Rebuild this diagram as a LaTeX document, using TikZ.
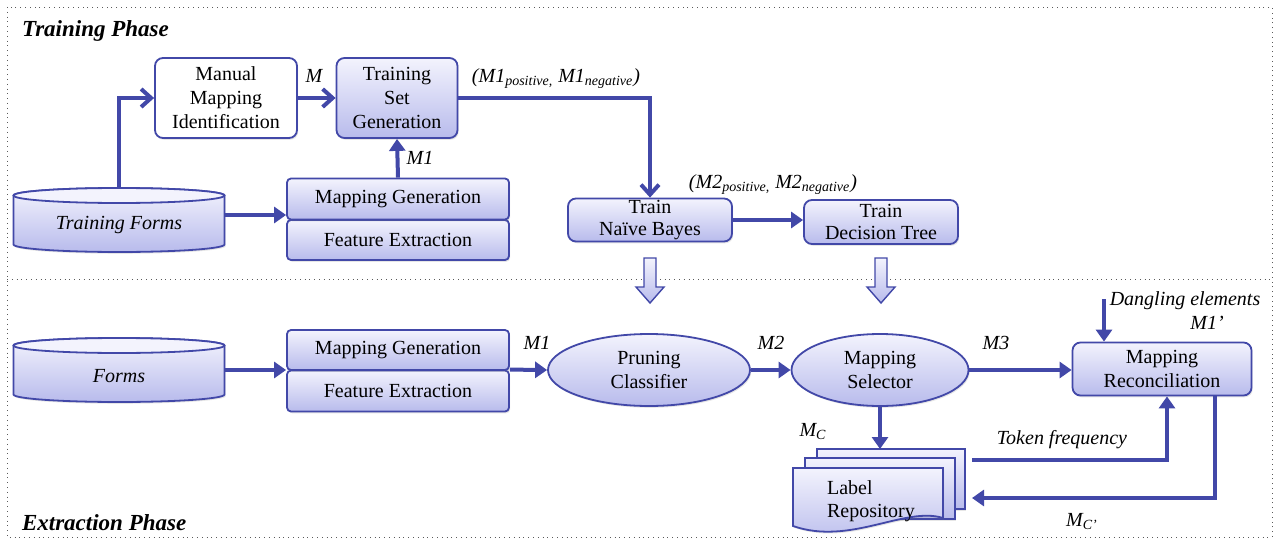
\documentclass[tikz,border=0pt]{standalone}
\usepackage{fontspec}
\setmainfont{Liberation Serif}
\usepackage{tikz}
\usetikzlibrary{arrows.meta, shapes.geometric, shadows, positioning, calc}
\definecolor{flowblue}{RGB}{66,72,168}
\definecolor{lavtop}{RGB}{243,243,253}
\definecolor{lavbot}{RGB}{184,187,236}
\definecolor{frameline}{RGB}{90,90,90}

\begin{document}
\begin{tikzpicture}[x=0.5pt, y=-0.5pt,
    every node/.style={font=\fontsize{10}{12}\selectfont},
    softshadow/.style={drop shadow={opacity=0.2, shadow xshift=0.6pt, shadow yshift=-0.9pt}},
    procbox/.style={draw=flowblue, line width=0.9pt, rounded corners=4pt, top color=lavtop, bottom color=lavbot, align=center, inner sep=0pt, softshadow},
    stagebox/.style={draw=flowblue, line width=0.9pt, rounded corners=2pt, top color=lavtop, bottom color=lavbot, align=center, inner sep=0pt, minimum width=111pt},
    classif/.style={ellipse, draw=flowblue, line width=0.9pt, top color=lavtop, bottom color=lavbot, align=center, inner sep=0pt, softshadow},
    dbbody/.style={draw=flowblue, line width=0.9pt, top color=lavtop, bottom color=lavbot, softshadow},
    dbtop/.style={draw=flowblue, line width=0.9pt, fill=lavtop},
    dbtext/.style={minimum width=105.5pt, minimum height=37pt, inner sep=0pt, font=\fontsize{10}{12}\selectfont\itshape},
    flow/.style={draw=flowblue, line width=2pt, -{Triangle[width=8pt, length=6pt]}},
    chev/.style={draw=flowblue, line width=2pt, -{Straight Barb[width=9pt, length=5pt, line width=2pt]}},
    hollow/.style={draw=flowblue, line width=0.7pt, top color=lavtop, bottom color=lavbot},
    lbl/.style={font=\fontsize{10}{12}\selectfont\itshape},
    phase/.style={font=\fontsize{11.5}{13}\selectfont\bfseries\itshape, anchor=base west}
]
\useasboundingbox (0,0) rectangle (1278,540);
% phase frames
\draw[frameline, line width=0.4pt, dotted] (7,7) rectangle (1272,537);
\draw[frameline, line width=0.4pt, dotted] (7,279) -- (1272,279);
\node[phase] (trainph) at (15,37) {Training Phase};
\node[phase] (extrph) at (15,530) {Extraction Phase};

% the two form stores
\foreach \cy in {220,370} {
  \draw[dbbody] (13.5,\cy-24.5) arc[start angle=180, end angle=0, x radius=52.75pt, y radius=3.75pt] -- (224.5,\cy+24.5) arc[start angle=0, end angle=-180, x radius=52.75pt, y radius=3.75pt] -- cycle;
  \draw[dbtop] (119,\cy-24.5) ellipse[x radius=52.75pt, y radius=3.75pt];
}

% training phase
\node[dbtext] (tforms) at (119,225) {Training Forms};
\node[procbox, fill=white, top color=white, bottom color=white, minimum width=71pt, minimum height=40pt] (manual) at (226,98) {Manual\\Mapping\\Identification};
\node[procbox, minimum width=60.5pt, minimum height=40pt] (tsg) at (397,98) {Training\\Set\\Generation};
\node[stagebox, minimum height=20pt, softshadow] (tfeat) at (398,240) {Feature Extraction};
\node[stagebox, minimum height=20.5pt, softshadow] (tmapgen) at (398,199) {Mapping Generation};
\node[procbox, font=\fontsize{10}{11}\selectfont, minimum width=82pt, minimum height=21.5pt] (nbayes) at (650,220) {Train\\Naïve Bayes};
\node[procbox, font=\fontsize{10}{11}\selectfont, minimum width=77pt, minimum height=22pt] (dtree) at (881,222) {Train\\Decision Tree};

\draw[chev] (tforms.north) |- (manual.west);
\draw[chev] (manual.east) -- (tsg.west);
\draw[flow] (tmapgen.north) -- (tsg.south);
\draw[flow] ([yshift=5pt]tforms.east) -- ([yshift=5pt]tforms.east -| tmapgen.west);
\draw[chev] (tsg.east) -| (nbayes.north);
\draw[flow] (nbayes.east) -- (nbayes.east -| dtree.west);
\node[lbl] (lm) at (314,76) {M};
\node[lbl] (lm1a) at (420,158) {M1};
\node[lbl] (lm1pn) at (556,79) {(M1\textsubscript{positive,} M1\textsubscript{negative})};
\node[lbl] (lm2pn) at (773,185) {(M2\textsubscript{positive,} M2\textsubscript{negative})};

% models handed to extraction
\foreach \ax in {650,881}
  \draw[hollow] (\ax-6,258) -- (\ax+6,258) -- (\ax+6,287) -- (\ax+14,287) -- (\ax,303) -- (\ax-14,287) -- (\ax-6,287) -- cycle;

% extraction phase
\node[dbtext] (forms) at (119,376) {Forms};
\node[stagebox, minimum height=20.5pt, softshadow] (efeat) at (398,391) {Feature Extraction};
\node[stagebox, minimum height=20pt, softshadow] (emapgen) at (398,350) {Mapping Generation};
\node[classif, minimum width=101pt, minimum height=36pt] (pruning) at (649,370) {Pruning\\Classifier};
\node[classif, minimum width=88.5pt, minimum height=36pt] (selector) at (880,370) {Mapping\\Selector};
\node[procbox, minimum width=89.5pt, minimum height=26.5pt] (reconcile) at (1162,369) {Mapping\\Reconciliation};

% label repository
\draw[hollow, line width=0.9pt, softshadow] (817,449) rectangle (965,509);
\draw[hollow, line width=0.9pt, softshadow] (805,458) rectangle (955,519);
\draw[hollow, line width=0.9pt, softshadow] (793,468) -- (943,468) -- (943,518) .. controls (905,506) and (850,546) .. (793,526) -- cycle;
\node[anchor=west, align=left, font=\fontsize{10}{11.5}\selectfont] (repo) at (820,501) {Label\\Repository};
\coordinate (repotop) at (880,449);
\coordinate (tokstart) at (972,460);
\coordinate (mcend) at (972,498);
\coordinate (dangtop) at (1104,299);

\draw[flow] ([yshift=3pt]forms.east) -- ([yshift=3pt]forms.east -| emapgen.west);
\draw[flow] (efeat.north east) -- (pruning.west);
\draw[flow] (pruning.east) -- (selector.west);
\draw[flow] (selector.east) -- (selector.east -| reconcile.west);
\draw[flow] (selector.south) -- (repotop);
\draw[flow] (dangtop) -- (dangtop |- reconcile.north);
\draw[flow] (tokstart) -| ([xshift=2.5pt]reconcile.south);
\draw[flow] ([xshift=26.5pt]reconcile.south) |- (mcend);

\node[lbl] (lm1b) at (537,343) {M1};
\node[lbl] (lm2) at (771,343) {M2};
\node[lbl] (lm3) at (996,343) {M3};
\node[lbl, align=center] (ldang) at (1185,311) {Dangling elements\\\hspace*{2.2em}M1’};
\node[lbl] (lmc) at (813,432) {M\textsubscript{C}};
\node[lbl] (ltok) at (1062,440) {Token frequency};
\node[lbl] (lmcp) at (1082,522) {M\textsubscript{C’}};
\end{tikzpicture}
\end{document}
